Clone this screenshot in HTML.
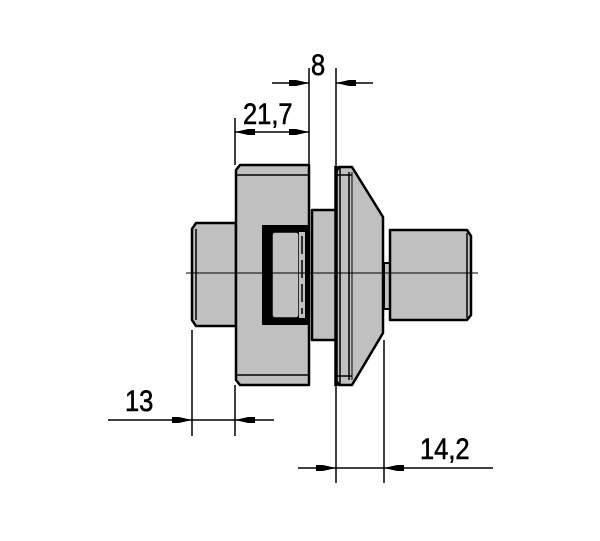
<!DOCTYPE html>
<html><head><style>html,body{margin:0;padding:0;background:#fff}svg{display:block}</style></head>
<body>
<svg width="600" height="541" viewBox="0 0 600 541" xmlns="http://www.w3.org/2000/svg" font-family="Liberation Sans, sans-serif">
<g stroke="#000" stroke-width="2.5" fill="#c0c0c0" stroke-linejoin="round">
<path d="M196,223 L236,223 L236,326 L196,326 L192,320 L192,229 Z"/>
<rect x="384" y="263" width="8" height="46" stroke-width="2"/>
<path d="M390,230 L467,230 L471,236 L471,315 L467,320 L390,320 Z"/>
<rect x="312" y="210" width="24" height="130"/>
<path d="M240,165 L309,165 L309,385 L240,385 L236,380 L236,170 Z"/>
<path d="M339,167 L352,167 L383,217 L383,333 L352,385 L339,385 L336,380 L336,172 Z"/>
</g>
<g stroke="#000" fill="none">
<line x1="236" y1="175" x2="309" y2="175" stroke-width="1.5"/>
<line x1="236" y1="375" x2="309" y2="375" stroke-width="1.5"/>
<line x1="336" y1="175" x2="352" y2="175" stroke-width="1.5"/>
<line x1="336" y1="376" x2="352" y2="376" stroke-width="1.5"/>
<line x1="340" y1="168" x2="340" y2="384" stroke-width="1.5"/>
<line x1="349" y1="172" x2="349" y2="380" stroke-width="1.5"/>
<line x1="352" y1="172" x2="352" y2="380" stroke-width="1"/>
<line x1="336" y1="166" x2="336" y2="386" stroke-width="3.5"/>
<line x1="196" y1="229" x2="196" y2="320" stroke-width="1.5"/>
<line x1="467" y1="233" x2="467" y2="318" stroke-width="1.5"/>
</g>
<rect x="262" y="225" width="48" height="100" fill="#000"/>
<rect x="272" y="232" width="27" height="86" fill="#c0c0c0" stroke="#000" stroke-width="1.5" rx="3"/>
<rect x="299" y="232" width="6" height="86" fill="#c0c0c0"/>
<line x1="302" y1="236" x2="302" y2="314" stroke="#000" stroke-width="1.5" stroke-dasharray="18,6"/>
<line x1="186" y1="273" x2="478" y2="273" stroke="#000" stroke-width="1"/>
<g stroke="#000" stroke-width="1.5">
<line x1="309" y1="68" x2="309" y2="165"/>
<line x1="336" y1="68" x2="336" y2="483"/>
<line x1="235" y1="118" x2="235" y2="165"/>
<line x1="192" y1="330" x2="192" y2="436"/>
<line x1="235" y1="385" x2="235" y2="436"/>
<line x1="384" y1="340" x2="384" y2="483"/>
<line x1="272" y1="83" x2="309" y2="83"/>
<line x1="373" y1="83" x2="336" y2="83"/>
<line x1="235" y1="132" x2="309" y2="132"/>
<line x1="108" y1="420" x2="274" y2="420"/>
<line x1="298" y1="468" x2="493" y2="468"/>
</g>
<g fill="#000">
<polygon points="309,83 296,80 289,80 289,86 296,86"/>
<polygon points="336,83 349,80 356,80 356,86 349,86"/>
<polygon points="235,132 248,129 255,129 255,135 248,135"/>
<polygon points="309,132 296,129 289,129 289,135 296,135"/>
<polygon points="192,420 179,417 172,417 172,423 179,423"/>
<polygon points="235,420 248,417 255,417 255,423 248,423"/>
<polygon points="336,468 323,465 316,465 316,471 323,471"/>
<polygon points="384,468 397,465 404,465 404,471 397,471"/>
</g>
<g font-size="30" fill="#000" stroke="#000" stroke-width="0.6">
<text transform="translate(311,75) scale(0.85,1)">8</text>
<text transform="translate(243,124) scale(0.85,1)">21,7</text>
<text transform="translate(125,411) scale(0.85,1)">13</text>
<text transform="translate(420,459) scale(0.85,1)">14,2</text>
</g>
</svg>
</body></html>
